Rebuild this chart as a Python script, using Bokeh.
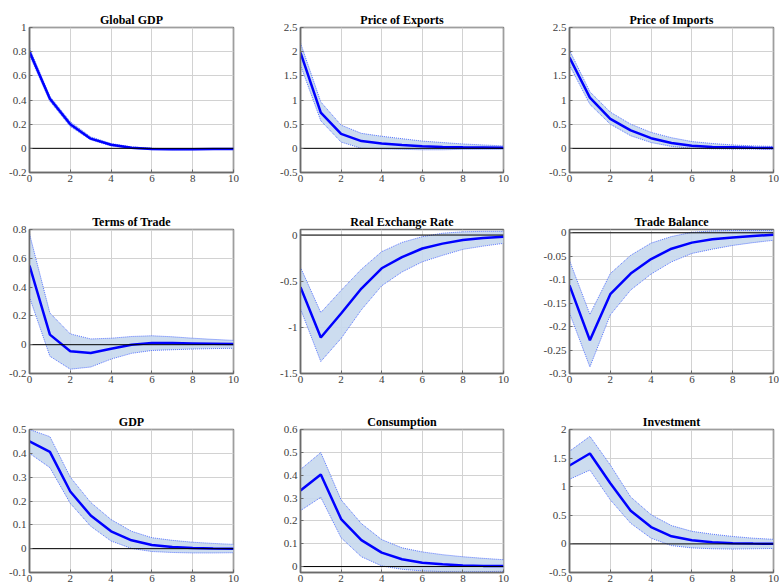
from bokeh.plotting import figure
from bokeh.layouts import gridplot
from bokeh.models import Range1d, FixedTicker, CustomJSTickFormatter, Span
from bokeh.embed import file_html
from bokeh.resources import INLINE

horizon = [0, 1, 2, 3, 4, 5, 6, 7, 8, 9, 10]
x_ticks = [0, 2, 4, 6, 8, 10]

# Global GDP
global_gdp_mean = [0.80, 0.41, 0.20, 0.08, 0.03, 0.005, -0.005, -0.008, -0.008, -0.006, -0.005]
global_gdp_low = [0.77, 0.39, 0.18, 0.07, 0.02, -0.002, -0.011, -0.013, -0.012, -0.010, -0.008]
global_gdp_high = [0.83, 0.43, 0.22, 0.095, 0.04, 0.012, 0.0, -0.004, -0.004, -0.003, -0.002]
global_gdp_ticks = [-0.2, 0, 0.2, 0.4, 0.6, 0.8, 1]

# Price of Exports
exports_mean = [1.98, 0.74, 0.30, 0.15, 0.10, 0.07, 0.045, 0.03, 0.02, 0.015, 0.01]
exports_low = [1.72, 0.57, 0.13, 0.0, -0.01, -0.02, -0.03, -0.03, -0.02, -0.02, -0.02]
exports_high = [2.18, 0.96, 0.48, 0.31, 0.25, 0.20, 0.15, 0.12, 0.09, 0.07, 0.05]
exports_ticks = [-0.5, 0, 0.5, 1, 1.5, 2, 2.5]

# Price of Imports
imports_mean = [1.88, 1.05, 0.61, 0.37, 0.21, 0.11, 0.055, 0.03, 0.02, 0.01, 0.008]
imports_low = [1.72, 0.91, 0.50, 0.26, 0.12, 0.04, 0.0, -0.01, -0.015, -0.015, -0.015]
imports_high = [2.03, 1.17, 0.75, 0.50, 0.33, 0.22, 0.14, 0.10, 0.07, 0.05, 0.04]
imports_ticks = [-0.5, 0, 0.5, 1, 1.5, 2, 2.5]

# Terms of Trade
tot_mean = [0.55, 0.07, -0.046, -0.058, -0.028, 0.0, 0.012, 0.011, 0.009, 0.007, 0.005]
tot_low = [0.33, -0.08, -0.17, -0.155, -0.10, -0.06, -0.04, -0.035, -0.03, -0.027, -0.025]
tot_high = [0.77, 0.22, 0.075, 0.04, 0.045, 0.057, 0.062, 0.055, 0.045, 0.037, 0.03]
tot_ticks = [-0.2, 0, 0.2, 0.4, 0.6, 0.8]

# Real Exchange Rate
rer_mean = [-0.564, -1.11, -0.85, -0.58, -0.36, -0.24, -0.146, -0.093, -0.054, -0.032, -0.018]
rer_low = [-0.80, -1.37, -1.12, -0.81, -0.55, -0.40, -0.29, -0.22, -0.155, -0.12, -0.09]
rer_high = [-0.35, -0.84, -0.60, -0.37, -0.18, -0.08, -0.018, 0.02, 0.035, 0.04, 0.04]
rer_ticks = [-1.5, -1, -0.5, 0]

# Trade Balance
tb_mean = [-0.112, -0.229, -0.131, -0.087, -0.056, -0.034, -0.021, -0.014, -0.010, -0.007, -0.004]
tb_low = [-0.171, -0.286, -0.175, -0.122, -0.088, -0.062, -0.044, -0.035, -0.027, -0.021, -0.016]
tb_high = [-0.059, -0.174, -0.087, -0.048, -0.022, -0.008, 0.001, 0.004, 0.005, 0.005, 0.005]
tb_ticks = [-0.3, -0.25, -0.2, -0.15, -0.1, -0.05, 0]

# GDP
gdp_mean = [0.45, 0.406, 0.24, 0.139, 0.073, 0.035, 0.015, 0.007, 0.003, 0.001, 0.0]
gdp_low = [0.40, 0.34, 0.19, 0.094, 0.032, 0.001, -0.012, -0.016, -0.018, -0.018, -0.017]
gdp_high = [0.50, 0.47, 0.30, 0.194, 0.122, 0.073, 0.046, 0.035, 0.027, 0.022, 0.018]
gdp_ticks = [-0.1, 0, 0.1, 0.2, 0.3, 0.4, 0.5]

# Consumption
cons_mean = [0.333, 0.403, 0.208, 0.116, 0.061, 0.032, 0.017, 0.010, 0.005, 0.003, 0.002]
cons_low = [0.245, 0.303, 0.126, 0.043, 0.003, -0.012, -0.019, -0.022, -0.023, -0.022, -0.021]
cons_high = [0.425, 0.499, 0.292, 0.188, 0.118, 0.082, 0.064, 0.052, 0.043, 0.036, 0.03]
cons_ticks = [0, 0.1, 0.2, 0.3, 0.4, 0.5, 0.6]

# Investment
inv_mean = [1.37, 1.58, 1.06, 0.58, 0.295, 0.133, 0.064, 0.03, 0.012, 0.005, 0.002]
inv_low = [1.13, 1.29, 0.77, 0.36, 0.10, -0.03, -0.07, -0.085, -0.09, -0.085, -0.08]
inv_high = [1.62, 1.88, 1.38, 0.82, 0.51, 0.32, 0.22, 0.17, 0.13, 0.10, 0.08]
inv_ticks = [-0.5, 0, 0.5, 1, 1.5, 2]

panels = [
    ("Global GDP", global_gdp_mean, global_gdp_low, global_gdp_high, (-0.2, 1.0), global_gdp_ticks),
    ("Price of Exports", exports_mean, exports_low, exports_high, (-0.5, 2.5), exports_ticks),
    ("Price of Imports", imports_mean, imports_low, imports_high, (-0.5, 2.5), imports_ticks),
    ("Terms of Trade", tot_mean, tot_low, tot_high, (-0.2, 0.8), tot_ticks),
    ("Real Exchange Rate", rer_mean, rer_low, rer_high, (-1.5, 0.06), rer_ticks),
    ("Trade Balance", tb_mean, tb_low, tb_high, (-0.3, 0.007), tb_ticks),
    ("GDP", gdp_mean, gdp_low, gdp_high, (-0.1, 0.5), gdp_ticks),
    ("Consumption", cons_mean, cons_low, cons_high, (-0.026, 0.6), cons_ticks),
    ("Investment", inv_mean, inv_low, inv_high, (-0.5, 2.0), inv_ticks),
]

col_w = [270, 259, 250]
col_lb = [29, 30, 40]
col_rb = [37, 26, 6]
row_h = [209, 200, 179]
row_tb = [27, 20, 20]
row_bb = [37, 36, 16]

SERIF = "Liberation Serif"
AX = "#6a6a6a"
fmt = CustomJSTickFormatter(code="return String(Math.round(tick*10000)/10000);")

figs = []
for i, (title, mean, low, high, yr, yt) in enumerate(panels):
    r, c = divmod(i, 3)
    pad = (yr[1] - yr[0]) * 1e-6
    p = figure(width=col_w[c], height=row_h[r], output_backend="svg",
               toolbar_location=None, tools="",
               x_range=Range1d(-0.00001, 10.00001), y_range=Range1d(yr[0] - pad, yr[1] + pad),
               min_border_left=col_lb[c], min_border_right=col_rb[c],
               min_border_top=row_tb[r], min_border_bottom=row_bb[r],
               background_fill_color="white", border_fill_color="white",
               outline_line_color=AX, outline_line_width=1.5)
    p.title.text = title
    p.title.text_font = SERIF
    p.title.text_font_style = "bold"
    p.title.text_font_size = "12px"
    p.title.align = "center"
    p.title.text_color = "black"
    p.title.standoff = 2

    p.xaxis.ticker = FixedTicker(ticks=x_ticks)
    p.yaxis.ticker = FixedTicker(ticks=yt)
    for ax in (p.xaxis[0], p.yaxis[0]):
        ax.formatter = fmt
        ax.major_label_text_font = SERIF
        ax.major_label_text_font_size = "11px"
        ax.major_label_text_color = "#3c3c3c"
        ax.major_tick_in = 3
        ax.major_tick_out = 0
        ax.minor_tick_line_color = None
        ax.axis_line_color = AX
        ax.axis_line_width = 1.5
        ax.major_tick_line_color = AX
        ax.major_label_standoff = 3
    p.xaxis.major_label_standoff = 2
    p.xgrid.ticker = FixedTicker(ticks=x_ticks)
    p.ygrid.ticker = FixedTicker(ticks=yt)
    p.grid.grid_line_color = "#d2d2d2"
    p.grid.grid_line_width = 1

    p.varea(x=horizon, y1=low, y2=high, fill_color="#c6d8ed", fill_alpha=0.9)
    p.line(horizon, low, line_color="#3355ff", line_width=0.8, line_dash="1 1")
    p.line(horizon, high, line_color="#3355ff", line_width=0.8, line_dash="1 1")
    zero = Span(location=0, dimension="width", line_color="black", line_width=1, level="glyph")
    p.add_layout(zero)
    p.line(horizon, mean, line_color="#0000ff", line_width=2.5)
    figs.append(p)

grid = gridplot([figs[0:3], figs[3:6], figs[6:9]], toolbar_location=None)

open("out.html", "w").write(file_html(grid, INLINE))
